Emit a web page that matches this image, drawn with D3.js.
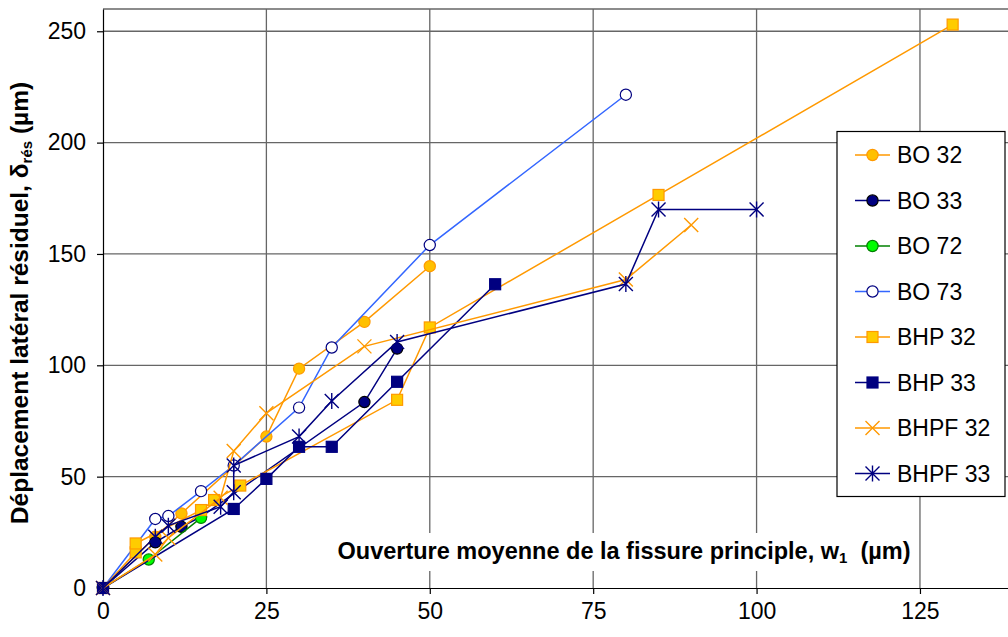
<!DOCTYPE html>
<html><head><meta charset="utf-8">
<script src="https://cdn.jsdelivr.net/npm/d3@7"></script>
<style>body{margin:0;background:#fff} svg{display:block;font-family:"Liberation Sans",Arial,sans-serif}</style>
</head><body><svg id="c" width="1008" height="637"></svg>
<script>
// ---- data (w1 in µm, residual lateral displacement in µm) ----
const xTicks = [0, 25, 50, 75, 100, 125];
const yTicks = [0, 50, 100, 150, 200, 250];
const seriesNames = ["BO 32", "BO 33", "BO 72", "BO 73", "BHP 32", "BHP 33", "BHPF 32", "BHPF 33"];
const bo32   = [[0,0],[8,23],[12,33.5],[25,68],[30,98.5],[40,119.5],[50,144.5]];
const bo33   = [[0,0],[8,20.5],[12,27.5],[15,32],[40,83.5],[45,107.5]];
const bo72   = [[0,0],[7,12.8],[15,31.5]];
const bo73   = [[0,0],[8,31],[10,32.3],[15,43.5],[20,55],[30,81],[35,108],[50,154],[80,221.5]];
const bhp32  = [[0,0],[5,16],[5,20],[15,35],[17,39.5],[21,46],[45,84.5],[50,117],[85,176.5],[130,253]];
const bhp33  = [[0,0],[20,35.5],[25,49],[30,63.4],[35,63.4],[45,92.6],[60,136.4]];
const bhpf32 = [[0,0],[8,15],[10,22.5],[18,40.5],[20,61.5],[25,78.5],[40,108.5],[80,138.5],[90,163]];
const bhpf33 = [[0,0],[8,23],[10,28],[18,36.5],[20,43],[20,55],[30,68],[35,84],[45,110.5],[80,136.5],[85,170],[100,170]];

const seriesData = [bo32, bo33, bo72, bo73, bhp32, bhp33, bhpf32, bhpf33];
const styles = [
  {line:"#FF9900", marker:"circle", fill:"#FFC000", stroke:"#FF9900"},
  {line:"#000080", marker:"circle", fill:"#000080", stroke:"#000000"},
  {line:"#008000", marker:"circle", fill:"#00FF00", stroke:"#008000"},
  {line:"#3366FF", marker:"circle", fill:"#FFFFFF", stroke:"#000080"},
  {line:"#FF9900", marker:"square", fill:"#FFCC00", stroke:"#FF9900"},
  {line:"#000080", marker:"square", fill:"#000080", stroke:"#000080"},
  {line:"#FF9900", marker:"x", fill:"none", stroke:"#FF9900"},
  {line:"#000080", marker:"star", fill:"none", stroke:"#000080"}
];

const svg = d3.select("#c");
const x = d3.scaleLinear().domain([0, 140]).range([103, 1018]);
const y = d3.scaleLinear().domain([0, 260]).range([588, 9]);

// gridlines
const grid = svg.append("g").attr("stroke", "#666").attr("stroke-width", 1.3);
xTicks.filter(d => d > 0).forEach(d => grid.append("line")
  .attr("x1", x(d)).attr("x2", x(d)).attr("y1", y(260)).attr("y2", y(0)));
yTicks.filter(d => d > 0).concat([260]).forEach(d => grid.append("line")
  .attr("x1", x(0)).attr("x2", x(140)).attr("y1", y(d)).attr("y2", y(d)));

// axes
const ax = svg.append("g").attr("transform", `translate(${x(0)},0)`)
  .call(d3.axisLeft(y).tickValues(yTicks).tickSize(6).tickPadding(11).tickSizeOuter(0));
const bx = svg.append("g").attr("transform", `translate(0,${y(0)})`)
  .call(d3.axisBottom(x).tickValues(xTicks).tickSize(6).tickPadding(9).tickSizeOuter(0));
[ax, bx].forEach(g => {
  g.selectAll("text").attr("font-size", 23).attr("fill", "#000")
    .attr("font-family", '"Liberation Sans",Arial,sans-serif');
  g.selectAll("line,path").attr("stroke", "#000").attr("stroke-width", 1.2);
});

function drawMarker(g, m, cx, cy, st) {
  if (m === "circle") {
    g.append("circle").attr("cx", cx).attr("cy", cy).attr("r", 5.6)
      .attr("fill", st.fill).attr("stroke", st.stroke).attr("stroke-width", 1.2);
  } else if (m === "square") {
    g.append("rect").attr("x", cx - 5.5).attr("y", cy - 5.5).attr("width", 11).attr("height", 11)
      .attr("fill", st.fill).attr("stroke", st.stroke).attr("stroke-width", 1.2);
  } else {
    const s = 7;
    const p = `M${cx-s},${cy-s}L${cx+s},${cy+s}M${cx-s},${cy+s}L${cx+s},${cy-s}` +
      (m === "star" ? `M${cx},${cy-s-1}L${cx},${cy+s+1}` : "");
    g.append("path").attr("d", p).attr("stroke", st.stroke).attr("stroke-width", 1.4).attr("fill", "none");
  }
}

// x-axis title (inside plot, white background)
svg.append("rect").attr("x", 336).attr("y", 533).attr("width", 576).attr("height", 38).attr("fill", "#fff");

const line = d3.line().x(d => x(d[0])).y(d => y(d[1]));
seriesData.forEach((data, i) => {
  const st = styles[i];
  const g = svg.append("g");
  g.append("path").datum(data).attr("d", line).attr("fill", "none")
    .attr("stroke", st.line).attr("stroke-width", 1.5);
  data.forEach(d => drawMarker(g, st.marker, x(d[0]), y(d[1]), st));
});

const xt = svg.append("text").attr("x", 624).attr("y", 559).attr("text-anchor", "middle")
  .attr("font-size", 23.5).attr("font-weight", "bold");
xt.append("tspan").text("Ouverture moyenne de la fissure principle, w");
xt.append("tspan").attr("font-size", 15).attr("dy", 4).text("1");
xt.append("tspan").attr("dy", -4).text("\u00a0 (µm)");

// y-axis title
const yt = svg.append("text").attr("transform", `translate(28,303) rotate(-90)`)
  .attr("text-anchor", "middle").attr("font-size", 24.5).attr("font-weight", "bold");
yt.append("tspan").text("Déplacement latéral résiduel, δ");
yt.append("tspan").attr("font-size", 15).attr("dy", 4).text("rés");
yt.append("tspan").attr("dy", -4).text(" (µm)");

// legend
const lg = svg.append("g");
lg.append("rect").attr("x", 837).attr("y", 131.5).attr("width", 168).attr("height", 365)
  .attr("fill", "#fff").attr("stroke", "#000").attr("stroke-width", 1.2);
seriesNames.forEach((name, i) => {
  const cy = 155 + i * 45.5;
  const st = styles[i];
  lg.append("line").attr("x1", 855).attr("x2", 890).attr("y1", cy).attr("y2", cy)
    .attr("stroke", st.line).attr("stroke-width", 1.5);
  drawMarker(lg, st.marker, 872.5, cy, st);
  lg.append("text").attr("x", 897).attr("y", cy + 8).attr("font-size", 23).text(name);
});
</script></body></html>
